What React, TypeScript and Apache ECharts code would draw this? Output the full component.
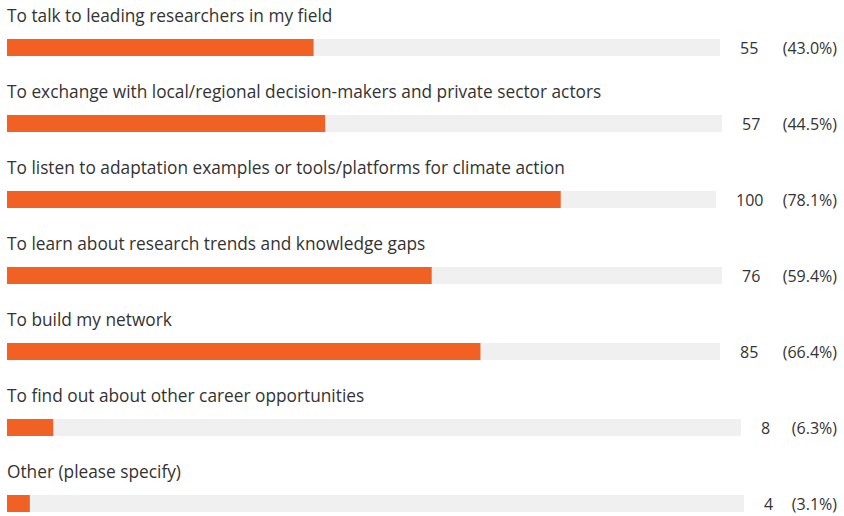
import React, { useEffect, useRef } from "react";
import * as echarts from "echarts";

const categories = [
  "To talk to leading researchers in my field",
  "To exchange with local/regional decision-makers and private sector actors",
  "To listen to adaptation examples or tools/platforms for climate action",
  "To learn about research trends and knowledge gaps",
  "To build my network",
  "To find out about other career opportunities",
  "Other (please specify)",
];
const counts = [55, 57, 100, 76, 85, 8, 4];
const percents = [43.0, 44.5, 78.1, 59.4, 66.4, 6.3, 3.1];
const trackEnds = [720, 722, 716, 722, 720, 741, 744];

const W = 844;
const H = 516;
const FONT = "Open Sans";
const TEXT = "#333333";
const ORANGE = "#F26124";
const TRACK = "#F0F0F0";

export default function App() {
  const ref = useRef<HTMLDivElement>(null);
  useEffect(() => {
    if (!ref.current) return;
    const chart = echarts.init(ref.current, undefined, { renderer: "svg" });
    const grids: any[] = [];
    const xAxes: any[] = [];
    const yAxes: any[] = [];
    const series: any[] = [];
    categories.forEach((cat, i) => {
      const top = 39 + 76 * i;
      grids.push({ left: 7, right: W - trackEnds[i], top, height: 17 });
      xAxes.push({ type: "value", min: 0, max: 100, show: false, gridIndex: i });
      yAxes.push({ type: "category", data: [cat], show: false, gridIndex: i });
      series.push({
        type: "bar",
        xAxisIndex: i,
        yAxisIndex: i,
        data: [100],
        barWidth: 17,
        barGap: "-100%",
        itemStyle: { color: TRACK },
        silent: true,
        label: {
          show: true,
          position: "right",
          distance: 20,
          width: 837 - trackEnds[i] - 20,
          overflow: "none",
          formatter: `{c|${counts[i]}}{p|(${percents[i].toFixed(1)}%)}`,
          rich: {
            c: { fontFamily: FONT, fontSize: 16, color: TEXT, align: "left" },
            p: { fontFamily: FONT, fontSize: 16, color: TEXT, align: "right" },
          },
        },
      });
      series.push({
        type: "bar",
        xAxisIndex: i,
        yAxisIndex: i,
        data: [percents[i]],
        barWidth: 17,
        barGap: "-100%",
        itemStyle: { color: ORANGE },
        silent: true,
        label: {
          show: true,
          position: [0, -24],
          align: "left",
          verticalAlign: "middle",
          formatter: cat,
          fontFamily: FONT,
          fontSize: 17.3,
          color: TEXT,
        },
      });
    });
    chart.setOption({
      animation: false,
      grid: grids,
      xAxis: xAxes,
      yAxis: yAxes,
      series,
    });
    return () => chart.dispose();
  }, []);
  return (
    <div
      ref={ref}
      style={{ position: "fixed", left: 0, top: 0, width: W, height: H, background: "#fff" }}
    />
  );
}
